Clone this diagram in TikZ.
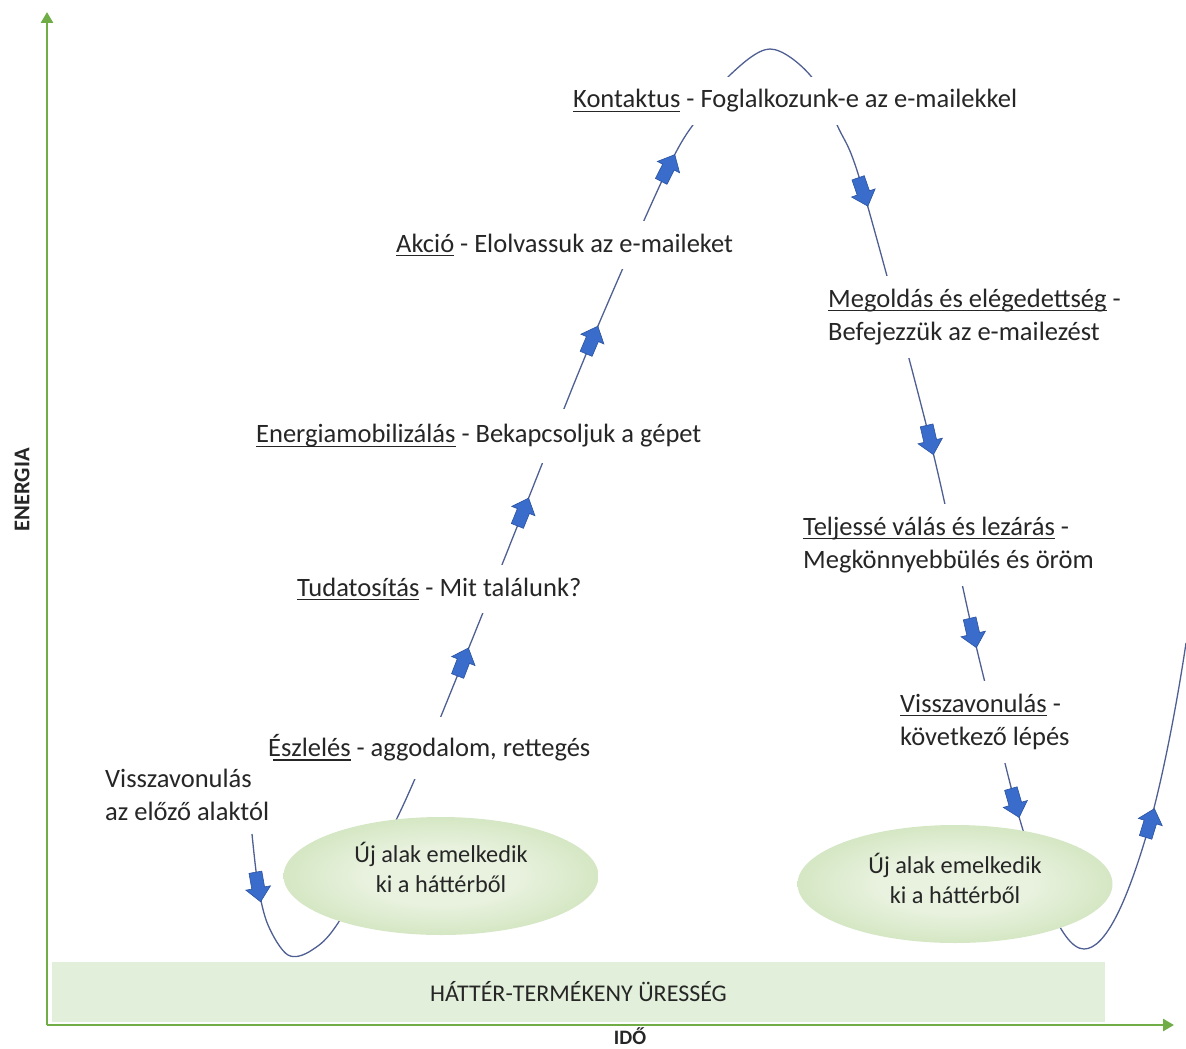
\documentclass[tikz,border=0pt]{standalone}
\usepackage{fontspec}
\setmainfont{Carlito}
\usetikzlibrary{shapes.geometric, arrows.meta}

\definecolor{axisgreen}{HTML}{70AD47}
\definecolor{voidgreen}{HTML}{E2EFDA}
\definecolor{curveblue}{HTML}{4F5F93}
\definecolor{arrowblue}{HTML}{3A6CCB}
\definecolor{arrowedge}{HTML}{2B53A0}
\definecolor{ovalin}{HTML}{E9F2DF}
\definecolor{ovalout}{HTML}{ADD18F}
\definecolor{inktext}{HTML}{262626}

% underline at a fixed depth, independent of descenders
\newsavebox\stageulbox
\newcommand\stageul[1]{\sbox\stageulbox{#1}\rlap{\rule[-3.8pt]{\wd\stageulbox}{1.1pt}}\usebox\stageulbox}

% soft green glow for the emerging-figure ovals
\pgfdeclareradialshading{ovalglow}{\pgfpoint{0bp}{0bp}}{%
  color(0bp)=(ovalin); color(12bp)=(ovalin); color(50bp)=(ovalout); color(100bp)=(ovalout)}

\tikzset{
  flowarrow/.pic={
    \path[fill=arrowblue, draw=arrowedge, line width=0.6pt, line join=miter]
      (-15,-6.5) -- (1,-6.5) -- (1,-12.5) -- (15,0) -- (1,12.5) -- (1,6.5) -- (-15,6.5) -- cycle;
  }
}

\begin{document}
\begin{tikzpicture}[x=1pt, y=-1pt,
  axis/.style={draw=axisgreen, line width=2.6pt, -{Triangle[length=11pt, width=12pt]}},
  cycleline/.style={draw=curveblue, line width=1.3pt},
  stage/.style={fill=white, inner xsep=4pt, inner ysep=13pt, anchor=west, align=left,
    text=inktext, font=\fontsize{26.5}{33}\selectfont},
  oval/.style={ellipse, minimum width=315pt, minimum height=118pt, inner sep=0pt, shading=ovalglow},
  ovaltext/.style={align=center, text=inktext, font=\fontsize{24.3}{30}\selectfont},
  voidbar/.style={fill=voidgreen, minimum width=1053pt, minimum height=60pt, inner sep=0pt,
    text=inktext, font=\fontsize{24}{28}\selectfont},
  axislabel/.style={text=inktext, font=\bfseries\fontsize{22.5}{26}\selectfont}
]
\useasboundingbox (0,0) rectangle (1186,1049);

% background void along the time axis
\node[voidbar] (void) at (578.5,992) {HÁTTÉR-TERMÉKENY ÜRESSÉG};

% axes
\coordinate (origin) at (47,1025);
\coordinate (ytop) at (47,12);
\coordinate (xend) at (1174,1025);
\draw[axis] (origin) -- (ytop);
\draw[axis] (origin) -- (xend);
\node[axislabel, inner sep=0pt, font=\bfseries\fontsize{20.5}{24}\selectfont] (time) at (630,1036) {IDŐ};
\node[axislabel, rotate=90] (energy) at (22,490) {ENERGIA};

% the contact cycle wave
\draw[cycleline] plot[smooth, tension=0.55] coordinates {
  (252,834) (258,885) (268,925) (288,955) (312,950) (340,920) (400,812)
  (463,662) (523,512) (592,340) (668,168) (700,115) (730,75) (770,49)
  (810,75) (838,127) (863,190) (930,440) (973,633) (1015,803)}
  .. controls (1036,876) and (1060,949) .. (1084,949)
  .. controls (1106,949) and (1128,900) .. (1150,823)
  .. controls (1162,780) and (1176,710) .. (1186,643);

% stage labels
\node[stage] (contact) at (569,101) {\stageul{Kontaktus} - Foglalkozunk-e az e-mailekkel};
\node[stage] (action) at (392,245) {\stageul{Akció} - Elolvassuk az e-maileket};
\node[stage, inner ysep=16pt] (mobil) at (252,436) {\stageul{Energiamobilizálás} - Bekapcsoljuk a gépet};
\node[stage] (aware) at (293,589) {\stageul{Tudatosítás} - Mit találunk?};
\node[stage, inner ysep=18pt] (sense) at (264,748) {\stageul{Észlelés} - aggodalom, rettegés};
\node[stage, inner ysep=12pt] (withdrawL) at (101,795) {Visszavonulás\\az előző alaktól};
\node[stage] (resolve) at (824,317) {\stageul{Megoldás és elégedettség} -\\Befejezzük az e-mailezést};
\node[stage] (closure) at (799,545) {\stageul{Teljessé válás és lezárás} -\\Megkönnyebbülés és öröm};
\node[stage] (withdrawR) at (896,722) {\stageul{Visszavonulás} -\\következő lépés};

% emerging figures
\node[oval] (figL) at (441,876) {};
\node[ovaltext] (figLtext) at ([yshift=9pt]figL.center) {Új alak emelkedik\\ki a háttérből};
\node[oval] (figR) at (955,884) {};
\node[ovaltext] (figRtext) at ([yshift=6pt]figR.center) {Új alak emelkedik\\ki a háttérből};

% direction markers along the wave
\pic[rotate=-80] at (258,887) {flowarrow};
\pic[rotate=69] at (463,662) {flowarrow};
\pic[rotate=68] at (523,512) {flowarrow};
\pic[rotate=67] at (592,340) {flowarrow};
\pic[rotate=63] at (668,168) {flowarrow};
\pic[rotate=-71] at (863,192) {flowarrow};
\pic[rotate=-77] at (930,440) {flowarrow};
\pic[rotate=-77] at (973,633) {flowarrow};
\pic[rotate=-74] at (1015,803) {flowarrow};
\pic[rotate=73] at (1150,823) {flowarrow};
\end{tikzpicture}
\end{document}
